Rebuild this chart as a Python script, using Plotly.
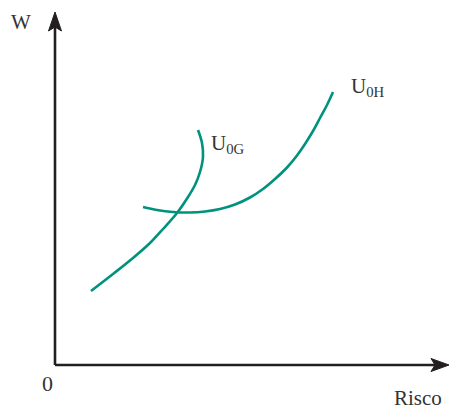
import plotly.graph_objects as go

# Curve U0G (risk, wealth) in chart units (origin at axes corner)
g_risk = [36, 58, 78, 95, 108, 122, 133, 140, 145, 148, 147, 143]
g_wealth = [74, 91, 107, 122, 136, 152, 168, 180, 193, 208, 222, 235]

# Curve U0H
h_risk = [88, 102, 118, 135, 150, 165, 180, 195, 208, 220, 232, 242, 250, 258, 265, 272, 278]
h_wealth = [158, 155, 153, 152.5, 153.5, 156, 160.5, 167.5, 176, 186, 197.5, 209.5, 221, 234, 247, 260, 273]

labels = {"W": "W", "risk": "Risco", "origin": "0", "g": "U<sub>0G</sub>", "h": "U<sub>0H</sub>"}

teal = "#00927d"
ink = "#231f20"
font_family = "Liberation Serif, DejaVu Serif, serif"

fig = go.Figure()
for xs, ys in ((g_risk, g_wealth), (h_risk, h_wealth)):
    fig.add_trace(go.Scatter(x=xs, y=ys, mode="lines",
                             line=dict(color=teal, width=2.6, shape="spline", smoothing=1.0),
                             hoverinfo="skip", showlegend=False))

# Axes with arrowheads
fig.add_shape(type="line", x0=0, y0=0, x1=0, y1=338, line=dict(color=ink, width=2.6))
fig.add_shape(type="line", x0=0, y0=0, x1=380, y1=0, line=dict(color=ink, width=2.6))
fig.add_shape(type="path", path="M -6.5,334 L 0,353 L 6.5,334 L 0,338 Z",
              fillcolor=ink, line=dict(color=ink, width=1))
fig.add_shape(type="path", path="M 376,6.5 L 394,0 L 376,-6.5 L 380,0 Z",
              fillcolor=ink, line=dict(color=ink, width=1))

def label(x, y, text, size=21, xanchor="left"):
    fig.add_annotation(x=x, y=y, text=text, showarrow=False, xanchor=xanchor, yanchor="middle",
                       font=dict(family=font_family, size=size, color="#333333"))

label(-34, 343, labels["W"], 21, "center")
label(154, 221, labels["g"], 21)
label(294, 278, labels["h"], 21)
label(-7.5, -18, labels["origin"], 22, "center")
label(362.5, -33, labels["risk"], 21, "center")

fig.update_layout(
    width=451, height=409,
    margin=dict(l=0, r=0, t=0, b=0),
    paper_bgcolor="white", plot_bgcolor="white",
    xaxis=dict(range=[-55, 396], visible=False, fixedrange=True),
    yaxis=dict(range=[-44, 365], visible=False, fixedrange=True),
)

fig.write_html("out.html", config={"displayModeBar": False},
               post_script="document.body.style.margin='0';")
